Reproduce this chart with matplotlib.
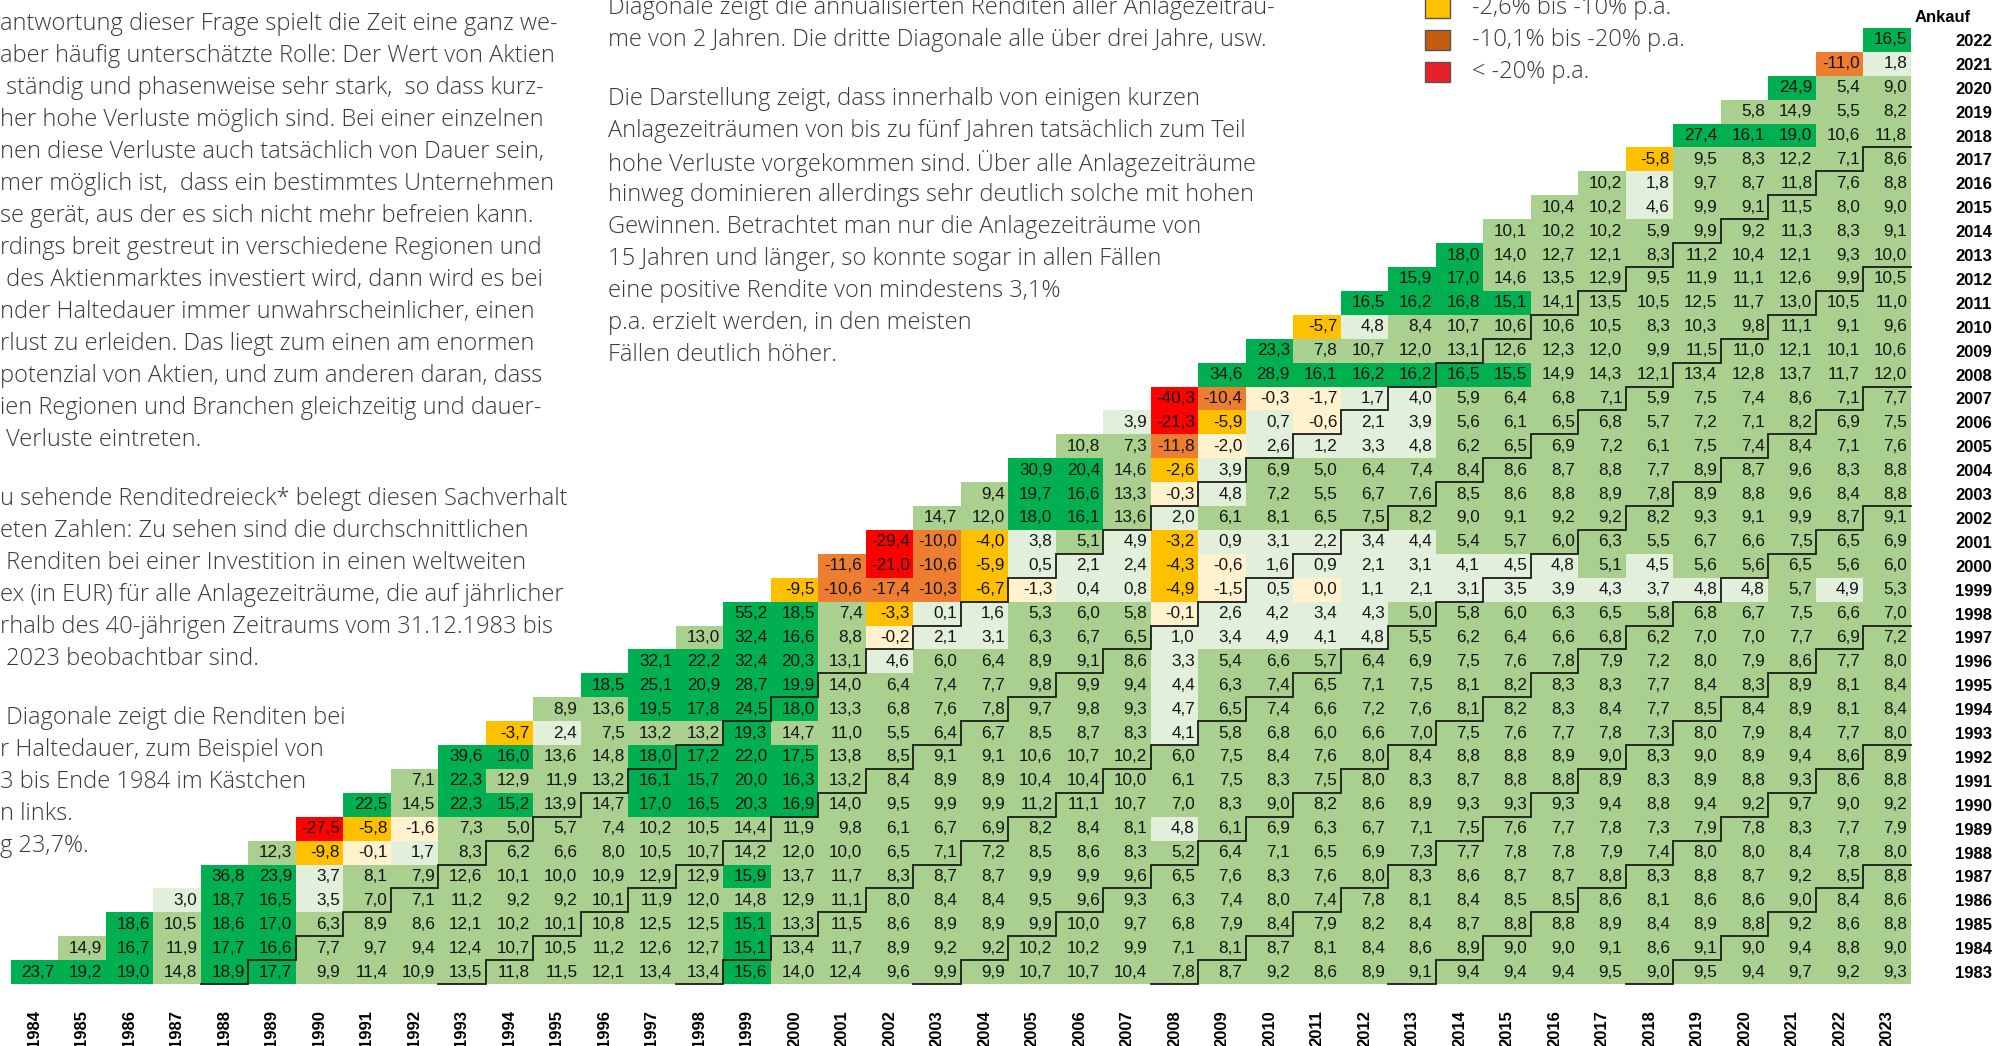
import numpy as np
import matplotlib.pyplot as plt
from matplotlib.colors import ListedColormap, BoundaryNorm
from matplotlib.patches import Rectangle

buy_years = list(range(1983, 2023))
sell_years = list(range(1984, 2024))

# annualised return in % p.a., one row per purchase year (Ankauf),
# first value = sale one year later, last value = sale 2023
returns = [
    [23.7, 19.2, 19.0, 14.8, 18.9, 17.7, 9.9, 11.4, 10.9, 13.5, 11.8, 11.5, 12.1, 13.4, 13.4, 15.6, 14.0, 12.4, 9.6, 9.9, 9.9, 10.7, 10.7, 10.4, 7.8, 8.7, 9.2, 8.6, 8.9, 9.1, 9.4, 9.4, 9.4, 9.5, 9.0, 9.5, 9.4, 9.7, 9.2, 9.3],  # 1983
    [14.9, 16.7, 11.9, 17.7, 16.6, 7.7, 9.7, 9.4, 12.4, 10.7, 10.5, 11.2, 12.6, 12.7, 15.1, 13.4, 11.7, 8.9, 9.2, 9.2, 10.2, 10.2, 9.9, 7.1, 8.1, 8.7, 8.1, 8.4, 8.6, 8.9, 9.0, 9.0, 9.1, 8.6, 9.1, 9.0, 9.4, 8.8, 9.0],  # 1984
    [18.6, 10.5, 18.6, 17.0, 6.3, 8.9, 8.6, 12.1, 10.2, 10.1, 10.8, 12.5, 12.5, 15.1, 13.3, 11.5, 8.6, 8.9, 8.9, 9.9, 10.0, 9.7, 6.8, 7.9, 8.4, 7.9, 8.2, 8.4, 8.7, 8.8, 8.8, 8.9, 8.4, 8.9, 8.8, 9.2, 8.6, 8.8],  # 1985
    [3.0, 18.7, 16.5, 3.5, 7.0, 7.1, 11.2, 9.2, 9.2, 10.1, 11.9, 12.0, 14.8, 12.9, 11.1, 8.0, 8.4, 8.4, 9.5, 9.6, 9.3, 6.3, 7.4, 8.0, 7.4, 7.8, 8.1, 8.4, 8.5, 8.5, 8.6, 8.1, 8.6, 8.6, 9.0, 8.4, 8.6],  # 1986
    [36.8, 23.9, 3.7, 8.1, 7.9, 12.6, 10.1, 10.0, 10.9, 12.9, 12.9, 15.9, 13.7, 11.7, 8.3, 8.7, 8.7, 9.9, 9.9, 9.6, 6.5, 7.6, 8.3, 7.6, 8.0, 8.3, 8.6, 8.7, 8.7, 8.8, 8.3, 8.8, 8.7, 9.2, 8.5, 8.8],  # 1987
    [12.3, -9.8, -0.1, 1.7, 8.3, 6.2, 6.6, 8.0, 10.5, 10.7, 14.2, 12.0, 10.0, 6.5, 7.1, 7.2, 8.5, 8.6, 8.3, 5.2, 6.4, 7.1, 6.5, 6.9, 7.3, 7.7, 7.8, 7.8, 7.9, 7.4, 8.0, 8.0, 8.4, 7.8, 8.0],  # 1988
    [-27.5, -5.8, -1.6, 7.3, 5.0, 5.7, 7.4, 10.2, 10.5, 14.4, 11.9, 9.8, 6.1, 6.7, 6.9, 8.2, 8.4, 8.1, 4.8, 6.1, 6.9, 6.3, 6.7, 7.1, 7.5, 7.6, 7.7, 7.8, 7.3, 7.9, 7.8, 8.3, 7.7, 7.9],  # 1989
    [22.5, 14.5, 22.3, 15.2, 13.9, 14.7, 17.0, 16.5, 20.3, 16.9, 14.0, 9.5, 9.9, 9.9, 11.2, 11.1, 10.7, 7.0, 8.3, 9.0, 8.2, 8.6, 8.9, 9.3, 9.3, 9.3, 9.4, 8.8, 9.4, 9.2, 9.7, 9.0, 9.2],  # 1990
    [7.1, 22.3, 12.9, 11.9, 13.2, 16.1, 15.7, 20.0, 16.3, 13.2, 8.4, 8.9, 8.9, 10.4, 10.4, 10.0, 6.1, 7.5, 8.3, 7.5, 8.0, 8.3, 8.7, 8.8, 8.8, 8.9, 8.3, 8.9, 8.8, 9.3, 8.6, 8.8],  # 1991
    [39.6, 16.0, 13.6, 14.8, 18.0, 17.2, 22.0, 17.5, 13.8, 8.5, 9.1, 9.1, 10.6, 10.7, 10.2, 6.0, 7.5, 8.4, 7.6, 8.0, 8.4, 8.8, 8.8, 8.9, 9.0, 8.3, 9.0, 8.9, 9.4, 8.6, 8.9],  # 1992
    [-3.7, 2.4, 7.5, 13.2, 13.2, 19.3, 14.7, 11.0, 5.5, 6.4, 6.7, 8.5, 8.7, 8.3, 4.1, 5.8, 6.8, 6.0, 6.6, 7.0, 7.5, 7.6, 7.7, 7.8, 7.3, 8.0, 7.9, 8.4, 7.7, 8.0],  # 1993
    [8.9, 13.6, 19.5, 17.8, 24.5, 18.0, 13.3, 6.8, 7.6, 7.8, 9.7, 9.8, 9.3, 4.7, 6.5, 7.4, 6.6, 7.2, 7.6, 8.1, 8.2, 8.3, 8.4, 7.7, 8.5, 8.4, 8.9, 8.1, 8.4],  # 1994
    [18.5, 25.1, 20.9, 28.7, 19.9, 14.0, 6.4, 7.4, 7.7, 9.8, 9.9, 9.4, 4.4, 6.3, 7.4, 6.5, 7.1, 7.5, 8.1, 8.2, 8.3, 8.3, 7.7, 8.4, 8.3, 8.9, 8.1, 8.4],  # 1995
    [32.1, 22.2, 32.4, 20.3, 13.1, 4.6, 6.0, 6.4, 8.9, 9.1, 8.6, 3.3, 5.4, 6.6, 5.7, 6.4, 6.9, 7.5, 7.6, 7.8, 7.9, 7.2, 8.0, 7.9, 8.6, 7.7, 8.0],  # 1996
    [13.0, 32.4, 16.6, 8.8, -0.2, 2.1, 3.1, 6.3, 6.7, 6.5, 1.0, 3.4, 4.9, 4.1, 4.8, 5.5, 6.2, 6.4, 6.6, 6.8, 6.2, 7.0, 7.0, 7.7, 6.9, 7.2],  # 1997
    [55.2, 18.5, 7.4, -3.3, 0.1, 1.6, 5.3, 6.0, 5.8, -0.1, 2.6, 4.2, 3.4, 4.3, 5.0, 5.8, 6.0, 6.3, 6.5, 5.8, 6.8, 6.7, 7.5, 6.6, 7.0],  # 1998
    [-9.5, -10.6, -17.4, -10.3, -6.7, -1.3, 0.4, 0.8, -4.9, -1.5, 0.5, 0.0, 1.1, 2.1, 3.1, 3.5, 3.9, 4.3, 3.7, 4.8, 4.8, 5.7, 4.9, 5.3],  # 1999
    [-11.6, -21.0, -10.6, -5.9, 0.5, 2.1, 2.4, -4.3, -0.6, 1.6, 0.9, 2.1, 3.1, 4.1, 4.5, 4.8, 5.1, 4.5, 5.6, 5.6, 6.5, 5.6, 6.0],  # 2000
    [-29.4, -10.0, -4.0, 3.8, 5.1, 4.9, -3.2, 0.9, 3.1, 2.2, 3.4, 4.4, 5.4, 5.7, 6.0, 6.3, 5.5, 6.7, 6.6, 7.5, 6.5, 6.9],  # 2001
    [14.7, 12.0, 18.0, 16.1, 13.6, 2.0, 6.1, 8.1, 6.5, 7.5, 8.2, 9.0, 9.1, 9.2, 9.2, 8.2, 9.3, 9.1, 9.9, 8.7, 9.1],  # 2002
    [9.4, 19.7, 16.6, 13.3, -0.3, 4.8, 7.2, 5.5, 6.7, 7.6, 8.5, 8.6, 8.8, 8.9, 7.8, 8.9, 8.8, 9.6, 8.4, 8.8],  # 2003
    [30.9, 20.4, 14.6, -2.6, 3.9, 6.9, 5.0, 6.4, 7.4, 8.4, 8.6, 8.7, 8.8, 7.7, 8.9, 8.7, 9.6, 8.3, 8.8],  # 2004
    [10.8, 7.3, -11.8, -2.0, 2.6, 1.2, 3.3, 4.8, 6.2, 6.5, 6.9, 7.2, 6.1, 7.5, 7.4, 8.4, 7.1, 7.6],  # 2005
    [3.9, -21.3, -5.9, 0.7, -0.6, 2.1, 3.9, 5.6, 6.1, 6.5, 6.8, 5.7, 7.2, 7.1, 8.2, 6.9, 7.5],  # 2006
    [-40.3, -10.4, -0.3, -1.7, 1.7, 4.0, 5.9, 6.4, 6.8, 7.1, 5.9, 7.5, 7.4, 8.6, 7.1, 7.7],  # 2007
    [34.6, 28.9, 16.1, 16.2, 16.2, 16.5, 15.5, 14.9, 14.3, 12.1, 13.4, 12.8, 13.7, 11.7, 12.0],  # 2008
    [23.3, 7.8, 10.7, 12.0, 13.1, 12.6, 12.3, 12.0, 9.9, 11.5, 11.0, 12.1, 10.1, 10.6],  # 2009
    [-5.7, 4.8, 8.4, 10.7, 10.6, 10.6, 10.5, 8.3, 10.3, 9.8, 11.1, 9.1, 9.6],  # 2010
    [16.5, 16.2, 16.8, 15.1, 14.1, 13.5, 10.5, 12.5, 11.7, 13.0, 10.5, 11.0],  # 2011
    [15.9, 17.0, 14.6, 13.5, 12.9, 9.5, 11.9, 11.1, 12.6, 9.9, 10.5],  # 2012
    [18.0, 14.0, 12.7, 12.1, 8.3, 11.2, 10.4, 12.1, 9.3, 10.0],  # 2013
    [10.1, 10.2, 10.2, 5.9, 9.9, 9.2, 11.3, 8.3, 9.1],  # 2014
    [10.4, 10.2, 4.6, 9.9, 9.1, 11.5, 8.0, 9.0],  # 2015
    [10.2, 1.8, 9.7, 8.7, 11.8, 7.6, 8.8],  # 2016
    [-5.8, 9.5, 8.3, 12.2, 7.1, 8.6],  # 2017
    [27.4, 16.1, 19.0, 10.6, 11.8],  # 2018
    [5.8, 14.9, 5.5, 8.2],  # 2019
    [24.9, 5.4, 9.0],  # 2020
    [-11.0, 1.8],  # 2021
    [16.5],  # 2022
]

# colour bands of the triangle
band_edges = [-100, -20, -9.95, -2.55, 0.05, 4.95, 14.95, 100]
band_colors = ['#ff0000', '#ed7d31', '#ffc000', '#fff2cc', '#e2efda', '#a9d08e', '#00b050']

legend_labels = ['-2,6% bis -10% p.a.', '-10,1% bis -20% p.a.', '< -20% p.a.']
legend_colors = ['#ffc000', '#c55a11', '#e8202a']

holding_marks = [5, 10, 15, 20, 25, 30, 35]  # staircase lines after 5, 10, ... years

text_left = [
    'antwortung dieser Frage spielt die Zeit eine ganz we-',
    'aber häufig unterschätzte Rolle: Der Wert von Aktien',
    ' ständig und phasenweise sehr stark,  so dass kurz-',
    'her hohe Verluste möglich sind. Bei einer einzelnen',
    'nen diese Verluste auch tatsächlich von Dauer sein,',
    'mer möglich ist,  dass ein bestimmtes Unternehmen',
    'se gerät, aus der es sich nicht mehr befreien kann.',
    'rdings breit gestreut in verschiedene Regionen und',
    ' des Aktienmarktes investiert wird, dann wird es bei',
    'nder Haltedauer immer unwahrscheinlicher, einen',
    'rlust zu erleiden. Das liegt zum einen am enormen',
    'potenzial von Aktien, und zum anderen daran, dass',
    'ien Regionen und Branchen gleichzeitig und dauer-',
    ' Verluste eintreten.',
    None,
    'u sehende Renditedreieck* belegt diesen Sachverhalt',
    'eten Zahlen: Zu sehen sind die durchschnittlichen',
    ' Renditen bei einer Investition in einen weltweiten',
    'ex (in EUR) für alle Anlagezeiträume, die auf jährlicher',
    'rhalb des 40-jährigen Zeitraums vom 31.12.1983 bis',
    ' 2023 beobachtbar sind.',
    None,
    ' Diagonale zeigt die Renditen bei',
    'r Haltedauer, zum Beispiel von',
    '3 bis Ende 1984 im Kästchen',
    'n links.',
    'g 23,7%.',
]

text_mid = [
    'Diagonale zeigt die annualisierten Renditen aller Anlagezeiträu-',
    'me von 2 Jahren. Die dritte Diagonale alle über drei Jahre, usw.',
    None,
    'Die Darstellung zeigt, dass innerhalb von einigen kurzen',
    'Anlagezeiträumen von bis zu fünf Jahren tatsächlich zum Teil',
    'hohe Verluste vorgekommen sind. Über alle Anlagezeiträume',
    'hinweg dominieren allerdings sehr deutlich solche mit hohen',
    'Gewinnen. Betrachtet man nur die Anlagezeiträume von',
    '15 Jahren und länger, so konnte sogar in allen Fällen',
    'eine positive Rendite von mindestens 3,1%',
    'p.a. erzielt werden, in den meisten',
    'Fällen deutlich höher.',
]

W, H = 1995, 1046
fig = plt.figure(figsize=(W / 100, H / 100), dpi=100)

def fx(px):
    return px / W

def fy(py):
    return 1 - py / H

body_font = dict(family=['Open Sans', 'DejaVu Sans'], fontweight='light', fontsize=17, color='#3a3a3a')
num_font = ['Liberation Sans', 'DejaVu Sans']

def put_lines(lines, x0, y0):
    y = y0
    for line in lines:
        if line is None:
            y += 27
            continue
        fig.text(fx(x0), fy(y), line, ha='left', va='center', **body_font)
        y += 32

put_lines(text_left, 0, 23.6)
put_lines(text_mid, 608, 8)

# legend
for i, (lab, col) in enumerate(zip(legend_labels, legend_colors)):
    yc = 8 + 32 * i
    fig.patches.append(Rectangle((fx(1425), fy(yc + 10)), 25 / W, 20 / H, transform=fig.transFigure,
                                 facecolor=col, edgecolor='#555555', lw=1.0))
    fig.text(fx(1472), fy(yc), lab, ha='left', va='center', **body_font)

# triangle
ax = fig.add_axes([fx(10.7), fy(984), 1900 / W, (984 - 28) / H])
n = len(sell_years)
grid = np.full((n, n), np.nan)
for j, row in enumerate(returns):
    grid[j, j:j + len(row)] = row

cmap = ListedColormap(band_colors)
norm = BoundaryNorm(band_edges, cmap.N)
ax.pcolormesh(np.arange(n + 1), np.arange(n + 1), np.ma.masked_invalid(grid), cmap=cmap, norm=norm)

for j, row in enumerate(returns):
    for k, v in enumerate(row):
        c = j + k
        ax.text(c + 1 - 0.07, j + 0.5, f'{v:.1f}'.replace('.', ','), ha='right', va='center',
                fontsize=12.3, family=num_font, color='#141414')

for h in holding_marks:
    xs, ys = [h - 1], [0]
    for j in range(0, n + 1 - h):
        c = j + h - 1
        xs += [c + 1, c + 1]
        ys += [j, j + 1]
    xs, ys = xs[:-1], ys[:-1]
    ax.plot(xs, ys, color='#1c1c1c', lw=1.3, clip_on=False, solid_joinstyle='miter')

ax.set_xlim(0, n)
ax.set_ylim(0, n)
ax.set_xticks(np.arange(n) + 0.5)
ax.set_xticklabels(sell_years, rotation=90, fontweight='bold', fontsize=12, family=num_font)
ax.yaxis.tick_right()
ax.set_yticks(np.arange(n) + 0.5)
ax.set_yticklabels(buy_years, fontweight='bold', fontsize=12, family=num_font)
ax.tick_params(axis='x', length=0, pad=19)
ax.tick_params(axis='y', length=0, pad=32)
for s in ax.spines.values():
    s.set_visible(False)

fig.text(fx(1915), fy(17), 'Ankauf', ha='left', va='center', fontweight='bold', fontsize=12, family=num_font)

fig.savefig('out.png', dpi=100)
